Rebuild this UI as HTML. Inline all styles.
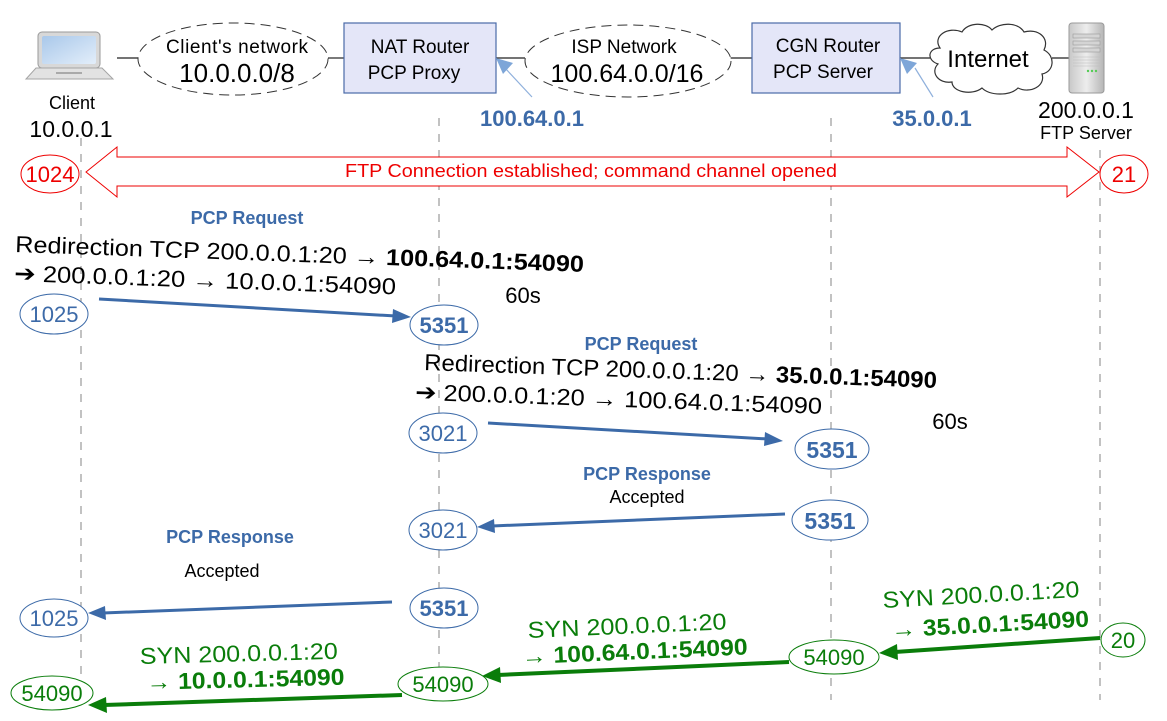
<!DOCTYPE html>
<html><head><meta charset="utf-8"><style>
html,body{margin:0;padding:0;background:#fff;}
svg{display:block;font-family:"Liberation Sans","DejaVu Sans",sans-serif;}
</style></head><body>
<svg width="1167" height="721" viewBox="0 0 1167 721" xmlns="http://www.w3.org/2000/svg">
<defs>
<linearGradient id="scr" x1="0" y1="0" x2="1" y2="1"><stop offset="0" stop-color="#a9c8ea"/><stop offset="1" stop-color="#e3eefa"/></linearGradient>
<linearGradient id="srv" x1="0" y1="0" x2="1" y2="0"><stop offset="0" stop-color="#c8c8c8"/><stop offset="0.5" stop-color="#ededed"/><stop offset="1" stop-color="#b5b5b5"/></linearGradient>
</defs>
<g stroke="#9a9a9a" stroke-width="1.2" stroke-dasharray="8,8" fill="none">
<line x1="81" y1="138" x2="81" y2="700"/>
<line x1="439" y1="118" x2="439" y2="700"/>
<line x1="831" y1="118" x2="831" y2="700"/>
<line x1="1100" y1="150" x2="1100" y2="700"/>
</g>
<rect x="38" y="32" width="62" height="36" rx="4" fill="#d8d8d8" stroke="#9a9a9a"/>
<rect x="42" y="36" width="54" height="28" rx="2" fill="url(#scr)"/>
<path d="M36 68 L102 68 L113 79 L26 79 Z" fill="#e2e2e2" stroke="#a5a5a5"/>
<rect x="56" y="72" width="26" height="2" fill="#aaa"/>
<g stroke="#222" stroke-width="1.2">
<line x1="117" y1="58" x2="138" y2="58"/>
<line x1="328" y1="58" x2="344" y2="58"/>
<line x1="496" y1="58" x2="525" y2="58"/>
<line x1="730" y1="58" x2="752" y2="58"/>
<line x1="900" y1="58" x2="930" y2="58"/>
<line x1="1052" y1="58" x2="1069" y2="58"/>
</g>
<ellipse cx="233" cy="59" rx="95" ry="36" fill="#fff" stroke="#333" stroke-dasharray="10,6"/>
<text x="237" y="53" font-size="19" text-anchor="middle" textLength="142">Client's network</text>
<text x="237" y="82" font-size="26" text-anchor="middle">10.0.0.0/8</text>
<rect x="344" y="23" width="152" height="70" fill="#e4e6f8" stroke="#4a6aa8" stroke-width="1.2"/>
<text x="420" y="53" font-size="19" text-anchor="middle">NAT Router</text>
<text x="414" y="79" font-size="19" text-anchor="middle">PCP Proxy</text>
<ellipse cx="628" cy="61" rx="103" ry="36" fill="#fff" stroke="#333" stroke-dasharray="10,6"/>
<text x="624" y="53" font-size="19" text-anchor="middle">ISP Network</text>
<text x="627" y="82" font-size="25" text-anchor="middle">100.64.0.0/16</text>
<rect x="752" y="23" width="148" height="70" fill="#e4e6f8" stroke="#4a6aa8" stroke-width="1.2"/>
<text x="828" y="52" font-size="19" text-anchor="middle">CGN Router</text>
<text x="823" y="78" font-size="19" text-anchor="middle">PCP Server</text>
<path d="M940 48 C932 36 948 26 962 32 C968 22 986 22 992 30 C1000 22 1018 22 1024 32 C1038 28 1050 38 1044 50 C1056 56 1054 72 1042 74 C1046 86 1030 94 1018 88 C1010 96 990 96 982 88 C972 96 952 92 952 82 C938 84 930 72 938 64 C926 60 928 48 940 48 Z" fill="#fff" stroke="#333" stroke-width="1.2"/>
<text x="988" y="67" font-size="24" text-anchor="middle">Internet</text>
<rect x="1069" y="23" width="35" height="70" rx="3" fill="url(#srv)" stroke="#9a9a9a"/>
<g fill="#d4d4d4" stroke="#999" stroke-width="0.6">
<rect x="1073" y="34" width="27" height="4"/><rect x="1073" y="41" width="27" height="4"/><rect x="1073" y="48" width="27" height="4"/>
</g>
<g stroke="#bbb" stroke-width="0.6"><line x1="1073" y1="57" x2="1100" y2="57"/><line x1="1073" y1="60" x2="1100" y2="60"/><line x1="1073" y1="63" x2="1100" y2="63"/><line x1="1073" y1="66" x2="1100" y2="66"/></g>
<g fill="#5c5"><circle cx="1088" cy="71" r="1.2"/><circle cx="1092" cy="71" r="1.2"/><circle cx="1096" cy="71" r="1.2"/></g>
<g stroke="#8fb0dc" stroke-width="1.2"><line x1="532" y1="97" x2="505" y2="68"/><line x1="933" y1="97" x2="915" y2="68"/></g>
<polygon points="496,58 513,63 503,74" fill="#7ea6d8"/>
<polygon points="900,58 917,63 907,74" fill="#7ea6d8"/>
<text x="532" y="126" font-size="22" font-weight="bold" fill="#3c6aa8" text-anchor="middle">100.64.0.1</text>
<text x="932" y="126" font-size="22" font-weight="bold" fill="#3c6aa8" text-anchor="middle">35.0.0.1</text>
<text x="72" y="109" font-size="18" text-anchor="middle">Client</text>
<text x="71" y="137" font-size="23" text-anchor="middle">10.0.0.1</text>
<text x="1086" y="118" font-size="23" text-anchor="middle">200.0.0.1</text>
<text x="1086" y="139" font-size="18" text-anchor="middle">FTP Server</text>
<path d="M86 172 L117 147 L117 157 L1067 157 L1067 147 L1099 172 L1067 197 L1067 186 L117 186 L117 197 Z" fill="#fff" stroke="#e00" stroke-width="1"/>
<text x="345" y="177" font-size="18" fill="#e00" textLength="492" lengthAdjust="spacingAndGlyphs">FTP Connection established; command channel opened</text>
<ellipse cx="50" cy="174" rx="29" ry="19" fill="#fff" stroke="#e00"/>
<text x="50" y="182" font-size="22" fill="#e00" text-anchor="middle">1024</text>
<ellipse cx="1124" cy="174" rx="24" ry="19" fill="#fff" stroke="#e00"/>
<text x="1124" y="182" font-size="22" fill="#e00" text-anchor="middle">21</text>
<text x="247" y="224" font-size="18" font-weight="bold" fill="#3c6aa8" text-anchor="middle">PCP Request</text>
<g transform="rotate(2 15 252)">
<text x="15" y="252" font-size="23" textLength="569" lengthAdjust="spacingAndGlyphs">Redirection TCP 200.0.0.1:20 → <tspan font-weight="bold">100.64.0.1:54090</tspan></text>
<text x="15" y="281" font-size="23" textLength="382" lengthAdjust="spacingAndGlyphs">➔ 200.0.0.1:20 → 10.0.0.1:54090</text>
</g>
<text x="523" y="303" font-size="22" text-anchor="middle">60s</text>
<line x1="99" y1="299" x2="396" y2="316" stroke="#3c6aa8" stroke-width="3"/>
<polygon points="411,317 393,309 392,323" fill="#3c6aa8"/>
<ellipse cx="54" cy="314" rx="34" ry="20" fill="#fff" stroke="#3c6aa8"/>
<text x="54" y="322" font-size="22" fill="#3c6aa8" text-anchor="middle">1025</text>
<ellipse cx="444" cy="325" rx="34" ry="20" fill="#fff" stroke="#3c6aa8"/>
<text x="444" y="333" font-size="22" font-weight="bold" fill="#3c6aa8" text-anchor="middle">5351</text>
<text x="641" y="350" font-size="18" font-weight="bold" fill="#3c6aa8" text-anchor="middle">PCP Request</text>
<g transform="rotate(2 424 370)">
<text x="424" y="370" font-size="23" textLength="513" lengthAdjust="spacingAndGlyphs">Redirection TCP 200.0.0.1:20 → <tspan font-weight="bold">35.0.0.1:54090</tspan></text>
<text x="416" y="400" font-size="23" textLength="407" lengthAdjust="spacingAndGlyphs">➔ 200.0.0.1:20 → 100.64.0.1:54090</text>
</g>
<text x="950" y="429" font-size="22" text-anchor="middle">60s</text>
<line x1="488" y1="423" x2="768" y2="439" stroke="#3c6aa8" stroke-width="3"/>
<polygon points="783,441 765,432 764,446" fill="#3c6aa8"/>
<ellipse cx="443" cy="433" rx="34" ry="20" fill="#fff" stroke="#3c6aa8"/>
<text x="443" y="441" font-size="22" fill="#3c6aa8" text-anchor="middle">3021</text>
<ellipse cx="832" cy="449" rx="37" ry="20" fill="#fff" stroke="#3c6aa8"/>
<text x="832" y="458" font-size="23" font-weight="bold" fill="#3c6aa8" text-anchor="middle">5351</text>
<text x="647" y="480" font-size="18" font-weight="bold" fill="#3c6aa8" text-anchor="middle">PCP Response</text>
<text x="647" y="503" font-size="18" text-anchor="middle">Accepted</text>
<line x1="785" y1="514" x2="492" y2="526" stroke="#3c6aa8" stroke-width="3"/>
<polygon points="477,527 494,519 495,533" fill="#3c6aa8"/>
<ellipse cx="830" cy="520" rx="38" ry="20" fill="#fff" stroke="#3c6aa8"/>
<text x="830" y="529" font-size="23" font-weight="bold" fill="#3c6aa8" text-anchor="middle">5351</text>
<ellipse cx="443" cy="530" rx="34" ry="20" fill="#fff" stroke="#3c6aa8"/>
<text x="443" y="538" font-size="22" fill="#3c6aa8" text-anchor="middle">3021</text>
<text x="230" y="543" font-size="18" font-weight="bold" fill="#3c6aa8" text-anchor="middle">PCP Response</text>
<text x="222" y="577" font-size="18" text-anchor="middle">Accepted</text>
<line x1="392" y1="602" x2="103" y2="613" stroke="#3c6aa8" stroke-width="3"/>
<polygon points="88,613 105,606 106,620" fill="#3c6aa8"/>
<ellipse cx="54" cy="618" rx="34" ry="19" fill="#fff" stroke="#3c6aa8"/>
<text x="54" y="626" font-size="22" fill="#3c6aa8" text-anchor="middle">1025</text>
<ellipse cx="444" cy="608" rx="34" ry="20" fill="#fff" stroke="#3c6aa8"/>
<text x="444" y="616" font-size="22" font-weight="bold" fill="#3c6aa8" text-anchor="middle">5351</text>
<g fill="#0a7d0a" transform="rotate(-3.2 883 608)">
<text x="883" y="608" font-size="23" textLength="197" lengthAdjust="spacingAndGlyphs">SYN 200.0.0.1:20</text>
<text x="890" y="638" font-size="23" textLength="198" lengthAdjust="spacingAndGlyphs">→ <tspan font-weight="bold">35.0.0.1:54090</tspan></text>
</g>
<line x1="1100" y1="638" x2="895" y2="652" stroke="#0a7d0a" stroke-width="4"/>
<polygon points="879,653 897,644 898,660" fill="#0a7d0a"/>
<ellipse cx="1123" cy="640" rx="22" ry="17" fill="#fff" stroke="#0a7d0a"/>
<text x="1123" y="648" font-size="22" fill="#0a7d0a" text-anchor="middle">20</text>
<g fill="#0a7d0a" transform="rotate(-2.5 528 638)">
<text x="528" y="638" font-size="23" textLength="199" lengthAdjust="spacingAndGlyphs">SYN 200.0.0.1:20</text>
<text x="521" y="664" font-size="23" textLength="226" lengthAdjust="spacingAndGlyphs">→ <tspan font-weight="bold">100.64.0.1:54090</tspan></text>
</g>
<line x1="789" y1="662" x2="498" y2="675" stroke="#0a7d0a" stroke-width="4"/>
<polygon points="482,676 500,667 501,683" fill="#0a7d0a"/>
<ellipse cx="834" cy="657" rx="45" ry="17" fill="#fff" stroke="#0a7d0a"/>
<text x="834" y="665" font-size="22" fill="#0a7d0a" text-anchor="middle">54090</text>
<g fill="#0a7d0a" transform="rotate(-1.5 140 664)">
<text x="140" y="664" font-size="23" textLength="198" lengthAdjust="spacingAndGlyphs">SYN 200.0.0.1:20</text>
<text x="146" y="690" font-size="23" textLength="198" lengthAdjust="spacingAndGlyphs">→ <tspan font-weight="bold">10.0.0.1:54090</tspan></text>
</g>
<line x1="402" y1="695" x2="104" y2="705" stroke="#0a7d0a" stroke-width="4"/>
<polygon points="88,705 106,697 107,713" fill="#0a7d0a"/>
<ellipse cx="443" cy="684" rx="45" ry="17" fill="#fff" stroke="#0a7d0a"/>
<text x="443" y="692" font-size="22" fill="#0a7d0a" text-anchor="middle">54090</text>
<ellipse cx="52" cy="693" rx="41" ry="17" fill="#fff" stroke="#0a7d0a"/>
<text x="52" y="701" font-size="22" fill="#0a7d0a" text-anchor="middle">54090</text>
</svg>
</body></html>
